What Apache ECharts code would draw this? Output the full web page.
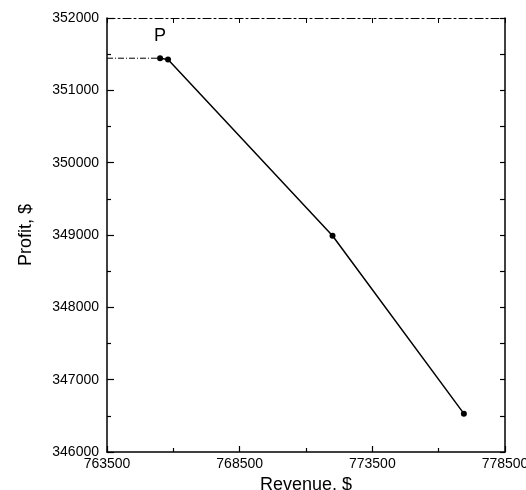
<!DOCTYPE html>
<html>
<head>
<meta charset="utf-8">
<script src="https://cdn.jsdelivr.net/npm/echarts@6/dist/echarts.min.js"></script>
<style>
html,body{margin:0;padding:0;background:#fff;}
#chart{width:526px;height:490px;}
</style>
</head>
<body>
<div id="chart"></div>
<script>
// Data
var revenue = [765500, 765800, 772000, 776950];
var profit  = [351444, 351426, 348990, 346530];
var pointLabels = ['P', '', '', ''];

// Axis ranges / ticks
var xMin = 763500, xMax = 778500, xStep = 5000;
var yMin = 346000, yMax = 352000, yStep = 1000;

var font = 'Liberation Sans, Arial, Helvetica, sans-serif';
var ink = '#000';

var mainData = revenue.map(function (r, i) {
  return { value: [r, profit[i]], label: { show: !!pointLabels[i], formatter: pointLabels[i] } };
});
var guideData = [[xMin, profit[0]], [revenue[0], profit[0]]];

var chart = echarts.init(document.getElementById('chart'));
chart.setOption({
  backgroundColor: '#fff',
  animation: false,
  grid: { left: 107, right: 21, top: 18, bottom: 38, containLabel: false, outerBoundsMode: 'none' },
  xAxis: [
    {
      type: 'value', min: xMin, max: xMax, interval: xStep, position: 'bottom',
      name: 'Revenue, $', nameLocation: 'middle', nameGap: 18,
      nameTextStyle: { fontFamily: font, fontSize: 18, color: ink },
      axisLine: { show: true, lineStyle: { color: ink, width: 1.5 } },
      axisTick: { show: true, inside: true, length: 6, lineStyle: { color: ink, width: 1.2 } },
      minorTick: { show: true, splitNumber: 2, length: 4, lineStyle: { color: ink, width: 1.2 } },
      axisLabel: { fontFamily: font, fontSize: 14, color: ink, margin: 5, formatter: function (v) { return String(v); } },
      splitLine: { show: false }
    },
    {
      type: 'value', min: xMin, max: xMax, interval: xStep / 2, position: 'top',
      axisLine: { show: true, lineStyle: { color: ink, width: 1, type: [8, 3, 2, 3] } },
      axisTick: { show: true, inside: true, length: 5, lineStyle: { color: ink, width: 1 } },
      axisLabel: { show: false },
      splitLine: { show: false }
    }
  ],
  yAxis: [
    {
      type: 'value', min: yMin, max: yMax, interval: yStep, position: 'left',
      name: 'Profit, $', nameLocation: 'middle', nameGap: 72, nameRotate: 90,
      nameTextStyle: { fontFamily: font, fontSize: 18, color: ink },
      axisLine: { show: true, lineStyle: { color: ink, width: 1.5 } },
      axisTick: { show: true, inside: true, length: 7, lineStyle: { color: ink, width: 1.2 } },
      minorTick: { show: true, splitNumber: 2, length: 4, lineStyle: { color: ink, width: 1.2 } },
      axisLabel: { fontFamily: font, fontSize: 14, color: ink, margin: 8, formatter: function (v) { return String(v); } },
      splitLine: { show: false }
    },
    {
      type: 'value', min: yMin, max: yMax, interval: yStep / 2, position: 'right',
      axisLine: { show: true, lineStyle: { color: ink, width: 1.5 } },
      axisTick: { show: true, inside: true, length: 5, lineStyle: { color: ink, width: 1.2 } },
      axisLabel: { show: false },
      splitLine: { show: false }
    }
  ],
  series: [
    {
      type: 'line', xAxisIndex: 0, yAxisIndex: 0,
      data: guideData, symbol: 'none', silent: true,
      lineStyle: { color: ink, width: 1, type: [6, 2, 1, 2] }
    },
    {
      type: 'line', xAxisIndex: 0, yAxisIndex: 0,
      data: mainData,
      symbol: 'circle', symbolSize: 6,
      itemStyle: { color: ink },
      lineStyle: { color: ink, width: 1.5 },
      label: { position: 'top', distance: 10, fontFamily: font, fontSize: 18, color: ink }
    }
  ]
});
</script>
</body>
</html>
